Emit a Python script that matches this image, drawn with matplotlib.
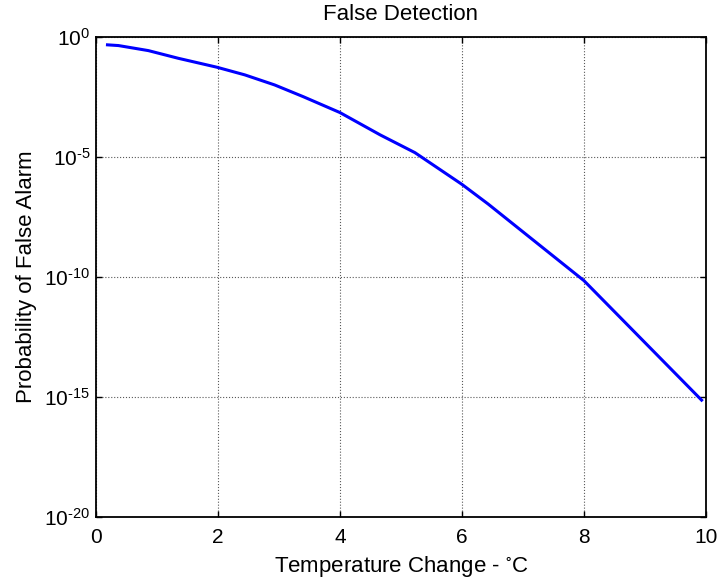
#!/usr/bin/env python3

import numpy as np
import matplotlib
matplotlib.use("Agg")
import matplotlib.pyplot as plt
from matplotlib.ticker import FixedLocator, NullLocator

# ===============================
# DATA
# ===============================

temp_change = [0.19, 0.37, 0.86, 1.35, 1.98, 2.44, 2.93, 3.4, 4.0,
               4.66, 5.23, 6.0, 6.43, 8.0, 9.93]
log_pfa = [-0.33, -0.36, -0.57, -0.89, -1.26, -1.58, -2.0, -2.49, -3.15,
           -4.08, -4.82, -6.14, -6.96, -10.15, -15.13]
pfa = 10.0 ** np.array(log_pfa)

y_ticks = [1e-20, 1e-15, 1e-10, 1e-5, 1e0]
x_ticks = [0, 2, 4, 6, 8, 10]

# ===============================
# PLOT
# ===============================

plt.rcParams["font.family"] = ["Liberation Sans", "DejaVu Sans"]
plt.rcParams["mathtext.fontset"] = "custom"
plt.rcParams["mathtext.rm"] = "Liberation Sans"
plt.rcParams["mathtext.it"] = "Liberation Sans:italic"
plt.rcParams["mathtext.default"] = "regular"

fig = plt.figure(figsize=(7.21, 5.86), dpi=100)
ax = fig.add_axes([0.133, 0.1177, 0.846, 0.8193])

ax.semilogy(temp_change, pfa, color=(0, 0, 1), linewidth=2.2)

ax.set_xlim(0, 10)
ax.set_ylim(1e-20, 1e0)
ax.xaxis.set_major_locator(FixedLocator(x_ticks))
ax.yaxis.set_major_locator(FixedLocator(y_ticks))
ax.yaxis.set_minor_locator(NullLocator())
# MATLAB-style exponents with a short hyphen instead of a wide minus
ax.set_yticklabels([r"$10^{\text{%d}}$" % int(np.log10(v)) for v in y_ticks])

ax.tick_params(direction="in", length=4, width=1, labelsize=15,
               top=True, right=True)
ax.tick_params(axis="x", pad=8)
ax.tick_params(axis="y", pad=4)
for s in ax.spines.values():
    s.set_linewidth(1.3)

ax.grid(True, which="major", linestyle=":", color="0.35", linewidth=0.8)

ax.set_xlabel(r"Temperature Change - $^{\circ}$C", fontsize=16, labelpad=5)
ax.set_ylabel("Probability of False Alarm", fontsize=16, labelpad=5)
ax.set_title("False Detection", fontsize=16, pad=12)

fig.savefig("out.png", dpi=100)
